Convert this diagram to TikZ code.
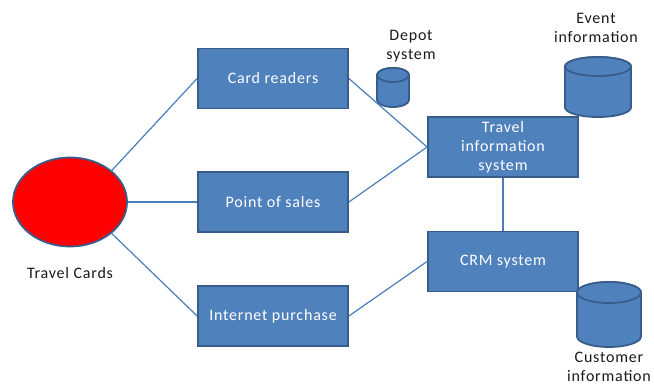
\documentclass[tikz,border=0pt]{standalone}
\usepackage{fontspec}
\setmainfont{Carlito}[LetterSpace=5]
\usetikzlibrary{shapes.geometric}
\definecolor{boxfill}{HTML}{4F81BD}
\definecolor{boxedge}{HTML}{385D8A}
\definecolor{linkcol}{HTML}{4A7EBB}
\definecolor{labeltext}{HTML}{1A1A1A}
\tikzset{
  sysbox/.style={rectangle, fill=boxfill, draw=boxedge, line width=1.8pt,
    minimum width=150, minimum height=60, inner sep=0pt, text=white,
    align=center, font=\fontsize{16}{19}\selectfont},
  link/.style={draw=linkcol, line width=1.2pt},
  caption/.style={text=labeltext, align=center, inner sep=0pt,
    font=\fontsize{16}{19}\selectfont},
  dbbody/.style={fill=boxfill, draw=boxedge, line width=1.8pt},
}
% vertical cylinder: centre x, top-ellipse centre y, bottom-ellipse centre y, rx, ry
\newcommand{\dbcyl}[5]{%
  \path[dbbody] (#1-#4,#2) -- (#1-#4,#3)
    arc[start angle=180, end angle=0, x radius=#4, y radius=#5]
    -- (#1+#4,#2)
    arc[start angle=0, end angle=-180, x radius=#4, y radius=#5] -- cycle;
  \path[dbbody] (#1,#2) ellipse [x radius=#4, y radius=#5];
}
\begin{document}
\begin{tikzpicture}[x=1pt, y=-1pt]
\useasboundingbox (0,0) rectangle (654,385);

% travel card holder
\node[ellipse, fill=red, draw=boxedge, line width=1.8pt,
  minimum width=114, minimum height=89, inner sep=0pt] (tc) at (70,202) {};
\node[caption] (tclabel) at (70,273) {Travel Cards};

% channels
\node[sysbox] (cr) at (273,78.5) {Card readers};
\node[sysbox] (ps) at (273,202) {Point of sales};
\node[sysbox] (ip) at (273,316) {Internet purchase};

% back-end systems
\node[sysbox] (tis) at (503,147) {Travel\\information\\system};
\node[sysbox] (crm) at (503,261.5) {CRM system};

% data stores
\dbcyl{393}{75}{100}{16}{7}
\node[caption] (depot) at (411,46) {Depot\\system};
\dbcyl{598}{66.5}{107.5}{33}{9.5}
\node[caption] (event) at (596,27.5) {Event\\information};
\dbcyl{609}{292.5}{336.5}{32}{10.5}
\node[caption] (cust) at (609,367) {Customer\\information};

% connections
\path[link] (tc.37) -- (cr.west);
\path[link] (tc.east) -- (ps.west);
\path[link] (tc.-37) -- (ip.west);
\path[link] (cr.east) -- (tis.west);
\path[link] (ps.east) -- (tis.west);
\path[link] (ip.east) -- (crm.west);
\path[link] (tis.south) -- (crm.north);
\end{tikzpicture}
\end{document}
